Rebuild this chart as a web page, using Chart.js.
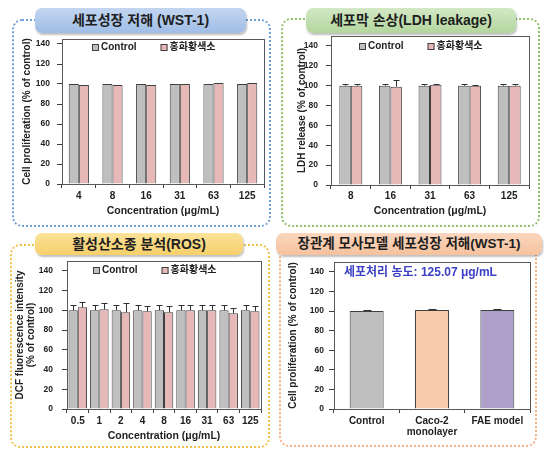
<!DOCTYPE html>
<html lang="ko">
<head>
<meta charset="UTF-8">
<title>세포독성 평가</title>
<script src="https://cdn.jsdelivr.net/npm/chart.js"></script>
<style>
    body {
        margin: 0;
        width: 559px;
        height: 466px;
        position: relative;
        overflow: hidden;
        background: #fff;
        font-family: 'Liberation Sans', 'Noto Sans CJK KR', sans-serif;
    }
    .frame {
        position: absolute;
        box-sizing: border-box;
        border: 2px dotted;
        border-radius: 10px;
    }
    .head {
        position: absolute;
        box-sizing: border-box;
        border-radius: 7px;
        text-align: center;
        font-weight: bold;
        color: #1e1e1e;
        box-shadow: 1px 2px 2px rgba(0,0,0,0.25);
        white-space: nowrap;
    }
    canvas { position: absolute; }
</style>
</head>
<body>
    <div class="frame" style="left:12px;top:19px;width:259px;height:208px;border-color:#6f9fd8"></div>
    <div class="frame" style="left:281px;top:18px;width:259px;height:209px;border-color:#8dc26a"></div>
    <div class="frame" style="left:10px;top:244px;width:260px;height:204px;border-color:#f0c04a"></div>
    <div class="frame" style="left:279px;top:244px;width:258px;height:203px;border-color:#f4b183"></div>

    <div class="head" style="left:35px;top:8px;width:211px;height:25px;line-height:25px;font-size:14px;background:linear-gradient(#c3d6f1,#9fbde5)">세포성장 저해 (WST-1)</div>
    <div class="head" style="left:306px;top:8px;width:210px;height:25px;line-height:25px;font-size:14px;background:linear-gradient(#d3e8c5,#b3d69e)">세포막 손상(LDH leakage)</div>
    <div class="head" style="left:35px;top:233px;width:208px;height:22px;line-height:22px;font-size:14px;background:linear-gradient(#fbe39a,#f6cf6a)">활성산소종 분석(ROS)</div>
    <div class="head" style="left:276px;top:233px;width:266px;height:22px;line-height:22px;font-size:13.5px;background:linear-gradient(#fad7bf,#f6c19d)">장관계 모사모델 세포성장 저해(WST-1)</div>

    <canvas id="wst" width="260" height="190" style="left:12px;top:34px"></canvas>
    <canvas id="ldh" width="258" height="194" style="left:282px;top:30px"></canvas>
    <canvas id="ros" width="258" height="190" style="left:12px;top:256px"></canvas>
    <canvas id="model" width="256" height="190" style="left:281px;top:256px"></canvas>

<script>
    // values
    const seriesNames = ['Control', '홍화황색소'];
    const yTicks = [0, 20, 40, 60, 80, 100, 120, 140];

    const wstDoses = ['4', '8', '16', '31', '63', '125'];
    const wstControl = [100, 100, 100, 100, 100, 100];
    const wstSample = [99, 99, 99, 100, 101, 101];

    const ldhDoses = ['8', '16', '31', '63', '125'];
    const ldhControl = [100, 100, 100, 100, 100];
    const ldhControlErr = [2, 2, 2, 2, 2];
    const ldhSample = [100, 99, 101, 100, 100];
    const ldhSampleErr = [2, 7, 1, 1, 2];

    const rosDoses = ['0.5', '1', '2', '4', '8', '16', '31', '63', '125'];
    const rosControl = [100, 100, 100, 100, 100, 100, 100, 100, 100];
    const rosControlErr = [5, 5, 5, 5, 5, 5, 5, 5, 5];
    const rosSample = [103, 101, 98, 99, 98, 100, 100, 97, 99];
    const rosSampleErr = [5, 6, 9, 5, 6, 5, 5, 5, 5];

    const modelGroups = ['Control', ['Caco-2', 'monolayer'], 'FAE model'];
    const modelValues = [100, 101, 101];
    const modelErr = [0.7, 1.5, 0.8];
    const modelNote = '세포처리 농도: 125.07 μg/mL';

    const FAMILY = "'Liberation Sans', 'Noto Sans CJK KR', sans-serif";
    Chart.defaults.font.family = FAMILY;
    Chart.defaults.color = '#222';

    const GRAY = '#bfbfbf', PINK = '#e6b8b7', EDGE = '#404040';

    // frame around the plot area (top and right lines)
    const plotFrame = {
        id: 'plotFrame',
        beforeDatasetsDraw(chart) {
            const a = chart.chartArea, ctx = chart.ctx;
            ctx.save();
            ctx.strokeStyle = '#595959';
            ctx.lineWidth = 1;
            ctx.strokeRect(Math.round(a.left) + 0.5, Math.round(a.top) + 0.5,
                Math.round(a.right - a.left), Math.round(a.bottom - a.top));
            ctx.restore();
        }
    };

    // upward error bars from dataset.errors
    const errorBars = {
        id: 'errorBars',
        afterDatasetsDraw(chart, args, opts) {
            const ctx = chart.ctx, y = chart.scales.y, cap = opts.cap || 3;
            ctx.save();
            ctx.strokeStyle = '#303030';
            ctx.lineWidth = 1;
            chart.data.datasets.forEach((ds, i) => {
                if (!ds.errors) return;
                chart.getDatasetMeta(i).data.forEach((bar, j) => {
                    const top = Math.round(y.getPixelForValue(ds.data[j] + ds.errors[j])) + 0.5;
                    const x = Math.round(bar.x) + 0.5;
                    ctx.beginPath();
                    ctx.moveTo(x, bar.y);
                    ctx.lineTo(x, top);
                    ctx.moveTo(x - cap, top);
                    ctx.lineTo(x + cap, top);
                    ctx.stroke();
                });
            });
            ctx.restore();
        }
    };

    // legend row inside the plot area, Excel style
    const innerLegend = {
        id: 'innerLegend',
        afterDraw(chart, args, opts) {
            if (!opts.show) return;
            const ctx = chart.ctx, a = chart.chartArea;
            const box = 7, gap = 2, space = 24;
            ctx.save();
            ctx.font = 'bold 10px ' + FAMILY;
            const items = chart.data.datasets.map(ds => ({
                text: ds.label, fill: ds.backgroundColor, w: ctx.measureText(ds.label).width
            }));
            const total = items.reduce((s, it) => s + box + gap + it.w, 0) + space * (items.length - 1);
            let x = Math.round((a.left + a.right) / 2 - total / 2 + opts.shift);
            const y = Math.round(a.top + opts.dy);
            items.forEach(it => {
                ctx.fillStyle = it.fill;
                ctx.fillRect(x, y - 3, box, box);
                ctx.strokeStyle = EDGE;
                ctx.lineWidth = 1;
                ctx.strokeRect(x + 0.5, y - 2.5, box - 1, box - 1);
                ctx.fillStyle = '#222';
                ctx.textBaseline = 'middle';
                ctx.fillText(it.text, x + box + gap, y + 0.5);
                x += box + gap + it.w + space;
            });
            ctx.restore();
        }
    };

    const noteLabel = {
        id: 'noteLabel',
        afterDraw(chart, args, opts) {
            if (!opts.text) return;
            const ctx = chart.ctx, a = chart.chartArea;
            ctx.save();
            ctx.font = 'bold 12px ' + FAMILY;
            ctx.fillStyle = '#3b40c4';
            ctx.textBaseline = 'middle';
            ctx.fillText(opts.text, a.left + 10, a.top + 11);
            ctx.restore();
        }
    };

    function makeChart(id, labels, datasets, g) {
        return new Chart(document.getElementById(id), {
            type: 'bar',
            data: { labels: labels, datasets: datasets },
            plugins: [plotFrame, errorBars, innerLegend, noteLabel],
            options: {
                responsive: false,
                animation: false,
                layout: { padding: { top: g.padTop, right: g.padRight, left: 0, bottom: 0 } },
                datasets: { bar: { categoryPercentage: g.cat, barPercentage: 1, borderWidth: 1, borderColor: EDGE } },
                plugins: {
                    tooltip: { enabled: false },
                    legend: { display: false },
                    errorBars: { cap: g.cap },
                    noteLabel: { text: g.note || '' },
                    innerLegend: { show: !!g.legend, dy: g.legendDy || 8, shift: -9 }
                },
                scales: {
                    x: {
                        grid: { offset: true, drawOnChartArea: false, tickLength: 4, color: EDGE },
                        border: { color: EDGE },
                        ticks: {
                            font: { size: 10, weight: 'bold', lineHeight: 1.1 }, padding: g.xPad, color: '#222',
                            maxRotation: 0, minRotation: 0, autoSkip: false
                        },
                        title: {
                            display: !!g.xTitle, text: g.xTitle || '',
                            font: { size: 10.5, weight: 'bold' }, padding: { top: 0, bottom: g.xTitlePad }, color: '#222'
                        },
                        afterFit(s) { s.height = g.xHeight; }
                    },
                    y: {
                        min: 0,
                        max: g.max,
                        grid: { drawOnChartArea: false, tickLength: 5, color: EDGE },
                        border: { color: EDGE },
                        afterBuildTicks(s) { s.ticks = yTicks.map(v => ({ value: v })); },
                        ticks: { font: { size: 8.5, weight: 'bold' }, padding: g.yPad, color: '#222' },
                        title: {
                            display: true, text: g.yTitle,
                            font: { size: 10, weight: 'bold', lineHeight: g.yLine || 1.2 },
                            padding: { top: g.yTitlePad, bottom: 0 }, color: '#222'
                        },
                        // fixed axis width, and no extra room for the end labels
                        afterFit(s) { s.width = g.yWidth; s.paddingTop = 0; s.paddingBottom = 0; }
                    }
                }
            }
        });
    }

    makeChart('wst', wstDoses, [
        { label: seriesNames[0], data: wstControl, backgroundColor: GRAY },
        { label: seriesNames[1], data: wstSample, backgroundColor: PINK }
    ], {
        padTop: 5, padRight: 8, yWidth: 50, xHeight: 40, max: 145, cat: 0.6, cap: 3,
        xPad: 3, xTitle: 'Concentration (μg/mL)', xTitlePad: 6.7,
        yPad: 7, yTitle: 'Cell proliferation (% of control)', yTitlePad: 9, legend: true, legendDy: 8
    });

    makeChart('ldh', ldhDoses, [
        { label: seriesNames[0], data: ldhControl, errors: ldhControlErr, backgroundColor: GRAY },
        { label: seriesNames[1], data: ldhSample, errors: ldhSampleErr, backgroundColor: PINK }
    ], {
        padTop: 6, padRight: 11, yWidth: 49, xHeight: 39, max: 150, cat: 0.58, cap: 3,
        xPad: 2, xTitle: 'Concentration (μg/mL)', xTitlePad: 6.7,
        yPad: 8, yTitle: 'LDH release (% of control)', yTitlePad: 14, legend: true, legendDy: 10
    });

    makeChart('ros', rosDoses, [
        { label: seriesNames[0], data: rosControl, errors: rosControlErr, backgroundColor: GRAY },
        { label: seriesNames[1], data: rosSample, errors: rosSampleErr, backgroundColor: PINK }
    ], {
        padTop: 5, padRight: 9, yWidth: 55, xHeight: 37, max: 150, cat: 0.86, cap: 3,
        xPad: 3, xTitle: 'Concentration (μg/mL)', xTitlePad: 3.7,
        yPad: 9, yTitle: ['DCF fluorescence intensity', '(% of control)'], yTitlePad: 2.5, yLine: 1.1,
        legend: true, legendDy: 9
    });

    makeChart('model', modelGroups, [
        { label: 'Cell proliferation', data: modelValues, errors: modelErr,
          backgroundColor: [GRAY, '#f8cbad', '#ad9fc9'] }
    ], {
        padTop: 6, padRight: 7, yWidth: 53, xHeight: 37, max: 150, cat: 0.52, cap: 4,
        xPad: 3, xTitle: '', xTitlePad: 0, note: modelNote,
        yPad: 5, yTitle: 'Cell proliferation (% of control)', yTitlePad: 6, legend: false
    });
</script>
</body>
</html>
